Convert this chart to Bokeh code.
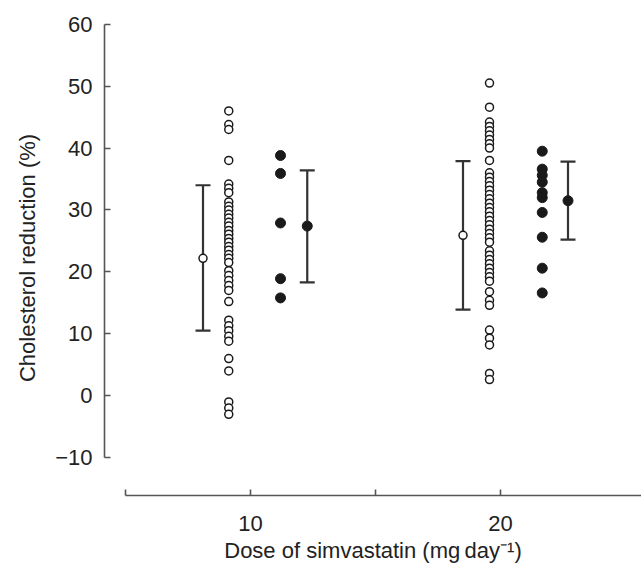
from bokeh.plotting import figure
from bokeh.models import Range1d, FixedTicker
from bokeh.embed import file_html
from bokeh.resources import INLINE

# ---- data ----
dose_ticks = [5, 10, 15, 20]
dose_tick_labels = {5: "", 10: "10", 15: "", 20: "20"}
y_ticks = [-10, 0, 10, 20, 30, 40, 50, 60]
y_tick_labels = {-10: "\u221210"}

# individual reductions, 10 mg/day, open symbols
open_10 = [46.0, 43.8, 43.0, 38.0, 34.2, 33.5, 32.8, 31.3, 30.6, 30.0, 29.3,
           28.7, 28.0, 27.4, 26.7, 26.1, 25.4, 24.8, 24.1, 23.5, 22.8, 22.2,
           21.5, 20.2, 19.4, 18.6, 17.8, 17.0, 15.2, 12.2, 11.3, 10.5, 9.6,
           8.8, 6.0, 4.0, -1.0, -2.0, -3.0]
# individual reductions, 10 mg/day, filled symbols
filled_10 = [38.8, 35.9, 27.9, 18.9, 15.8]
# individual reductions, 20 mg/day, open symbols
open_20 = [50.5, 46.6, 44.2, 43.5, 42.8, 42.1, 41.4, 40.7, 40.0, 38.0, 36.0,
           35.3, 34.6, 33.9, 33.2, 32.5, 31.8, 31.1, 30.4, 29.7, 29.0, 28.3,
           27.6, 26.9, 26.2, 25.5, 24.8, 23.4, 22.7, 22.0, 21.3, 20.6, 19.9,
           19.2, 18.5, 16.8, 15.4, 14.6, 10.6, 9.3, 8.2, 3.6, 2.6]
# individual reductions, 20 mg/day, filled symbols
filled_20 = [39.5, 36.6, 35.6, 34.5, 32.8, 32.0, 29.6, 25.6, 20.6, 16.6]

# group summaries: mean, lower, upper (open, filled) for 10 and 20 mg/day
open_mean = [22.2, 25.9]
open_low = [10.5, 13.9]
open_high = [34.0, 37.9]
filled_mean = [27.4, 31.5]
filled_low = [18.3, 25.2]
filled_high = [36.4, 37.8]

# ---- layout positions (x in dose units) ----
x_open_pts = [9.13, 19.56]
x_filled_pts = [11.2, 21.67]
x_open_sum = [8.1, 18.5]
x_filled_sum = [12.27, 22.7]
cap_half = 0.3

FONT = "Liberation Sans"
INK = "#1a1a1a"
AXIS = "#555555"

p = figure(width=641, height=565, output_backend="svg", toolbar_location=None,
           x_range=Range1d(4.16, 25.64), y_range=Range1d(-16.12, 60.61),
           min_border_left=104, min_border_right=0, min_border_top=20,
           min_border_bottom=69)
p.outline_line_color = None
p.xgrid.visible = False
p.ygrid.visible = False
p.background_fill_color = "white"
p.border_fill_color = "white"

for ax in (p.xaxis[0], p.yaxis[0]):
    ax.axis_line_color = AXIS
    ax.axis_line_width = 1.6
    ax.major_tick_line_color = AXIS
    ax.major_tick_line_width = 1.6
    ax.major_tick_in = 6
    ax.major_tick_out = 0
    ax.minor_tick_line_color = None
    ax.major_label_text_font = FONT
    ax.major_label_text_font_size = "22px"
    ax.major_label_text_color = "#222222"
    ax.axis_label_text_font = FONT
    ax.axis_label_text_font_size = "22px"
    ax.axis_label_text_font_style = "normal"
    ax.axis_label_text_color = "#222222"

p.xaxis.ticker = FixedTicker(ticks=dose_ticks)
p.xaxis.major_label_overrides = dose_tick_labels
p.xaxis.bounds = (5, 30)
p.xaxis.axis_label = "Dose of simvastatin (mg\u2009day\u207b\u00b9)"
p.xaxis.major_label_standoff = 20
p.xaxis.axis_label_standoff = 4

p.yaxis.ticker = FixedTicker(ticks=y_ticks)
p.yaxis.major_label_overrides = y_tick_labels
p.yaxis.bounds = (-10, 60)
p.yaxis.axis_label = "Cholesterol reduction (%)"
p.yaxis.major_label_standoff = 12
p.yaxis.axis_label_standoff = 12

# individual points
for xs, vals in ((x_open_pts[0], open_10), (x_open_pts[1], open_20)):
    p.scatter([xs] * len(vals), vals, size=8, marker="circle",
              fill_color="white", line_color=INK, line_width=1.5)
for xs, vals in ((x_filled_pts[0], filled_10), (x_filled_pts[1], filled_20)):
    p.scatter([xs] * len(vals), vals, size=10, marker="circle",
              fill_color=INK, line_color=INK, line_width=1)

# error bars
def bars(xs, lo, hi):
    p.segment(xs, lo, xs, hi, line_color="#333333", line_width=2.2)
    x0 = [x - cap_half for x in xs]
    x1 = [x + cap_half for x in xs]
    p.segment(x0, lo, x1, lo, line_color="#333333", line_width=2.2)
    p.segment(x0, hi, x1, hi, line_color="#333333", line_width=2.2)

bars(x_open_sum, open_low, open_high)
bars(x_filled_sum, filled_low, filled_high)

p.scatter(x_open_sum, open_mean, size=8, marker="circle",
          fill_color="white", line_color=INK, line_width=1.5)
p.scatter(x_filled_sum, filled_mean, size=10, marker="circle",
          fill_color=INK, line_color=INK, line_width=1)

open("out.html", "w").write(file_html(p, INLINE))
